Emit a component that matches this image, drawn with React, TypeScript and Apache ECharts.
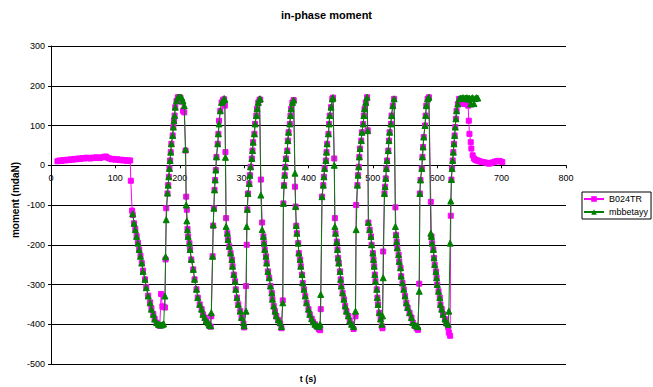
import React, { useEffect, useRef } from "react";
import * as echarts from "echarts";

// ---- data ----
const xTicks = [0, 100, 200, 300, 400, 500, 600, 700, 800];
const yTicks = [-500, -400, -300, -200, -100, 0, 100, 200, 300];

// B024TR only: quiet start
const tPre = [10, 13, 16, 19, 22, 25, 28, 31, 34, 37, 40, 43, 46, 49, 52, 55, 58, 61, 64, 67, 70, 73, 76, 79, 82, 85, 88, 91, 94, 97, 100, 103, 106, 109, 112, 115, 118, 121, 123];
const b024Pre = [10, 12, 11, 13, 12, 14, 13, 15, 14, 16, 15, 17, 16, 18, 17, 19, 18, 17, 19, 18, 20, 19, 18, 20, 21, 22, 19, 17, 15, 16, 14, 15, 13, 14, 12, 13, 11, 12, 12];

// cycles, shared time base
const tCyc1 = [124, 126, 127, 129, 131, 133, 135, 137, 139, 141, 143, 146, 148, 151, 154, 156, 159, 161, 164, 167, 169, 171, 173, 175, 177];
const b024Cyc1 = [-39, -114, -125, -146, -160, -178, -195, -212, -228, -246, -265, -287, -306, -328, -345, -360, -374, -386, -396, -402, -404, -324, -355, -356, -358];
const mbbCyc1 = [null, null, -122, -146, -162, -179, -196, -212, -229, -246, -267, -287, -308, -329, -346, -362, -375, -387, -396, -400, -401, -402, -401, -399, -329];

const tCyc2 = [178, 179, 181, 182, 183, 184, 185, 186, 187, 189, 190, 191, 192, 193, 195, 197, 199, 201, 203, 205, 207, 209, 210, 211, 212, 213, 215, 216, 218, 221, 223, 226, 228, 231, 234, 236, 239, 241, 244, 246, 248];
const b024Cyc2 = [-237, -108, -71, -50, -29, -8, 12, 33, 54, 75, 96, 112, 125, 146, 162, 171, 171, 170, 160, 137, 133, 37, -79, -112, -160, -179, -196, -212, -237, -262, -287, -312, -333, -350, -362, -375, -383, -392, -398, -404, -406];
const mbbCyc2 = [-230, -137, -70, -50, -29, -8, 12, 33, 54, 75, 96, 112, 125, 146, 162, 171, 171, 171, 170, 162, 150, 40, -100, -140, -162, -179, -196, -212, -237, -262, -287, -312, -333, -350, -362, -375, -383, -392, -396, -402, -404];

const tCyc3 = [249, 251, 252, 253, 254, 255, 256, 257, 259, 260, 261, 263, 265, 267, 269, 270, 271, 272, 274, 275, 277, 279, 281, 282, 284, 286, 287, 289, 291, 294, 296, 299, 300];
const b024Cyc3 = [-380, -229, -152, -108, -62, -37, -12, 21, 54, 79, 112, 137, 158, 164, 166, 150, 33, -133, -171, -187, -204, -221, -237, -254, -275, -292, -312, -333, -350, -367, -383, -398, -408];
const mbbCyc3 = [-371, -229, -150, -108, -62, -37, -12, 21, 54, 79, 104, 137, 158, 162, 168, 165, 20, -154, -171, -187, -204, -221, -237, -254, -275, -292, -312, -333, -350, -367, -383, -396, -404];

const tCyc4 = [303, 304, 305, 306, 308, 309, 310, 312, 313, 314, 316, 317, 319, 320, 322, 324, 325, 326, 328, 330, 331, 332, 334, 335, 337, 339, 341, 343, 344, 346, 348, 350, 353, 356, 358];
const b024Cyc4 = [-304, -200, -111, -71, -46, -25, -4, 17, 37, 58, 79, 104, 125, 142, 158, 165, 165, -36, -144, -179, -196, -212, -229, -246, -267, -283, -304, -321, -337, -354, -367, -379, -389, -398, -410];
const mbbCyc4 = [-367, -154, -111, -71, -46, -25, -4, 17, 37, 58, 79, 104, 125, 142, 158, 167, 167, -75, -162, -179, -196, -212, -229, -246, -267, -283, -304, -321, -337, -354, -367, -379, -389, -396, -406];

const tCyc5 = [360, 361, 362, 363, 364, 365, 367, 368, 369, 371, 372, 373, 375, 377, 379, 380, 381, 382, 384, 385, 387, 388, 390, 391, 393, 395, 397, 400, 402, 405, 407, 410, 413, 416, 418];
const b024Cyc5 = [-340, -96, -50, -25, -4, 17, 37, 62, 83, 104, 125, 142, 158, 164, -54, -104, -152, -171, -196, -221, -237, -254, -275, -296, -312, -329, -346, -362, -375, -386, -394, -400, -406, -412, -415];
const mbbCyc5 = [-346, -96, -50, -25, -4, 17, 37, 62, 83, 104, 125, 142, 158, 164, -20, -104, -152, -171, -196, -221, -237, -254, -275, -296, -312, -329, -346, -362, -375, -386, -394, -400, -404, -406, -400];

const tCyc6 = [419, 421, 423, 424, 425, 427, 428, 429, 431, 432, 433, 435, 437, 438, 440, 441, 442, 444, 445, 446, 447, 449, 450, 451, 453, 455, 457, 459, 462, 464, 467, 470];
const b024Cyc6 = [-362, -79, -50, -29, -8, 12, 33, 54, 79, 104, 125, 146, 167, 170, 17, -133, -171, -192, -212, -233, -246, -267, -287, -304, -321, -337, -354, -367, -379, -392, -400, -412];
const mbbCyc6 = [-325, -79, -50, -29, -8, 12, 33, 54, 79, 104, 125, 146, 167, 170, 0, -154, -171, -192, -212, -233, -246, -267, -287, -304, -321, -337, -354, -367, -379, -392, -400, -406];

const tCyc7 = [473, 474, 476, 477, 478, 479, 480, 482, 483, 485, 486, 487, 489, 491, 492, 493, 495, 497, 498, 500, 501, 502, 503, 504, 506, 507, 508, 510, 512, 514, 515];
const b024Cyc7 = [-380, -100, -50, -25, -4, 21, 42, 62, 83, 104, 125, 142, 158, 171, 88, -144, -162, -179, -200, -221, -237, -254, -275, -292, -312, -333, -350, -371, -387, -405, -410];
const mbbCyc7 = [-367, -162, -50, -25, -4, 21, 42, 62, 83, 104, 125, 142, 158, 171, 87, -144, -162, -179, -200, -221, -237, -254, -275, -292, -312, -333, -350, -371, -387, -400, -379];

const tCyc8 = [516, 518, 519, 520, 521, 522, 524, 525, 526, 528, 529, 531, 533, 535, 536, 537, 538, 540, 541, 543, 544, 546, 548, 550, 552, 554, 557, 560, 562, 565, 568, 570];
const b024Cyc8 = [-217, -71, -54, -33, -8, 12, 37, 62, 83, 104, 125, 150, 167, -106, -175, -192, -208, -225, -242, -258, -279, -296, -312, -329, -346, -358, -371, -383, -396, -404, -410, -414];
const mbbCyc8 = [-283, -71, -54, -33, -8, 12, 37, 62, 83, 104, 125, 150, 167, -154, -175, -192, -208, -225, -242, -258, -279, -296, -312, -329, -346, -358, -371, -383, -396, -402, -404, -406];

const tCyc9 = [572, 573, 574, 576, 577, 578, 579, 581, 582, 583, 585, 587, 590, 591, 592, 594, 595, 596, 598, 599, 600, 602, 604, 605, 607, 609, 612, 614, 617, 618, 620];
const b024Cyc9 = [-298, -71, -37, -8, 21, 46, 71, 100, 125, 150, 167, 171, -92, -179, -196, -212, -233, -250, -267, -283, -300, -317, -333, -350, -362, -375, -387, -398, -408, -421, -429];
const mbbCyc9 = [-317, -71, -37, -8, 21, 46, 71, 100, 125, 150, 167, 171, -171, -179, -196, -212, -233, -250, -267, -283, -300, -317, -333, -350, -362, -375, -387, -396, -400, -367, -196];

const tCyc10 = [621, 622, 623, 624, 625, 626, 627, 628, 629, 630, 632, 634, 636, 638, 640, 642, 644, 646, 648, 649, 650, 652, 653, 655, 657, 659, 661, 663];
const b024Cyc10 = [-127, -36, -8, 12, 33, 54, 75, 96, 117, 137, 154, 167, 160, 158, 156, 154, 158, 160, 150, 112, 79, 58, 42, 25, 17, 14, 12, 12];
const mbbCyc10 = [-90, -36, -8, 12, 33, 54, 75, 96, 117, 137, 154, 167, 169, 168, 170, 168, 169, 170, 168, 166, 169, 154, 168, 170, 155, 168, 170, 169];

// B024TR only: quiet end
const tPost = [665, 668, 671, 674, 677, 680, 683, 686, 689, 692, 695, 698, 701];
const b024Post = [10, 9, 8, 7, 6, 4, 5, 7, 9, 10, 11, 10, 8];

const seriesNames = ["B024TR", "mbbetayy"];

function pairs(ts: number[], vs: (number | null)[]) {
  return ts.map((t, i) => [t, vs[i]]);
}

export default function App() {
  const ref = useRef<HTMLDivElement>(null);
  useEffect(() => {
    if (!ref.current) return;
    const chart = echarts.init(ref.current, null, { renderer: "svg" });
    const tCyc = [tCyc1, tCyc2, tCyc3, tCyc4, tCyc5, tCyc6, tCyc7, tCyc8, tCyc9, tCyc10];
    const bCyc = [b024Cyc1, b024Cyc2, b024Cyc3, b024Cyc4, b024Cyc5, b024Cyc6, b024Cyc7, b024Cyc8, b024Cyc9, b024Cyc10];
    const gCyc = [mbbCyc1, mbbCyc2, mbbCyc3, mbbCyc4, mbbCyc5, mbbCyc6, mbbCyc7, mbbCyc8, mbbCyc9, mbbCyc10];
    const b024Data: any[] = [...pairs(tPre, b024Pre)];
    const mbbData: any[] = [];
    tCyc.forEach((ts, k) => {
      b024Data.push(...pairs(ts, bCyc[k]));
      mbbData.push(...pairs(ts, gCyc[k]));
    });
    b024Data.push(...pairs(tPost, b024Post));
    const mbbClean = mbbData.filter((d) => d[1] !== null);

    // grid geometry
    const gridTop = 46;
    const gridBottom = 23;
    const plotH = 387 - gridTop - gridBottom;
    const yMin = yTicks[0];
    const yMax = yTicks[yTicks.length - 1];
    const zeroOffset = -plotH * (0 - yMin) / (yMax - yMin);

    const font = "'Liberation Sans', Arial, sans-serif";
    chart.setOption({
      animation: false,
      backgroundColor: "#ffffff",
      title: {
        text: "in-phase moment",
        left: "center",
        top: 9,
        padding: 0,
        textStyle: { fontFamily: font, fontSize: 11, fontWeight: "bold", color: "#000" },
      },
      grid: { left: 51, right: 87, top: gridTop, bottom: gridBottom, containLabel: false },
      legend: {
        orient: "vertical",
        left: 582,
        top: 192,
        padding: [2, 3, 2, 1],
        itemGap: 3,
        itemWidth: 20,
        itemHeight: 7,
        borderColor: "#000",
        borderWidth: 1,
        borderRadius: 0,
        backgroundColor: "#fff",
        textStyle: { fontFamily: font, fontSize: 9, color: "#000", lineHeight: 10 },
        data: seriesNames,
      },
      xAxis: {
        type: "value",
        min: xTicks[0],
        max: xTicks[xTicks.length - 1],
        interval: 100,
        position: "bottom",
        offset: zeroOffset,
        axisLine: { onZero: false, lineStyle: { color: "#000", width: 1 } },
        axisTick: { show: true, length: 3, inside: false, lineStyle: { color: "#000" } },
        axisLabel: { fontFamily: font, fontSize: 9, color: "#000", margin: 8 },
        splitLine: { show: false },
      },
      yAxis: {
        type: "value",
        min: yMin,
        max: yMax,
        interval: 100,
        axisLine: { show: true, onZero: false, lineStyle: { color: "#000", width: 1 } },
        axisTick: { show: true, length: 3, inside: false, lineStyle: { color: "#000" } },
        axisLabel: { fontFamily: font, fontSize: 9, color: "#000", margin: 6 },
        splitLine: { show: true, lineStyle: { color: "#000", width: 1 } },
      },
      graphic: [
        {
          type: "text",
          x: 308,
          y: 379,
          style: {
            text: "t (s)",
            font: "bold 9px 'Liberation Sans', Arial, sans-serif",
            fill: "#000",
            textAlign: "center",
            textVerticalAlign: "middle",
            align: "center",
            verticalAlign: "middle",
          },
        },
        {
          type: "text",
          x: 15,
          y: 200,
          rotation: Math.PI / 2,
          style: {
            text: "moment (mdaN)",
            font: "bold 10px 'Liberation Sans', Arial, sans-serif",
            fill: "#000",
            textAlign: "center",
            textVerticalAlign: "middle",
            align: "center",
            verticalAlign: "middle",
          },
        },
      ],
      series: [
        {
          name: seriesNames[0],
          type: "line",
          data: b024Data,
          symbol: "rect",
          symbolSize: 5,
          showAllSymbol: true,
          lineStyle: { color: "#ff00ff", width: 1 },
          itemStyle: { color: "#ff00ff", borderColor: "#ff00ff" },
          z: 2,
        },
        {
          name: seriesNames[1],
          type: "line",
          data: mbbClean,
          symbol: "triangle",
          symbolSize: 6,
          showAllSymbol: true,
          lineStyle: { color: "#008000", width: 1 },
          itemStyle: { color: "#008000", borderColor: "#008000" },
          z: 3,
        },
      ],
    });
    return () => chart.dispose();
  }, []);
  return (
    <div
      ref={ref}
      style={{ position: "fixed", left: 0, top: 0, width: 653, height: 387, background: "#fff" }}
    />
  );
}
